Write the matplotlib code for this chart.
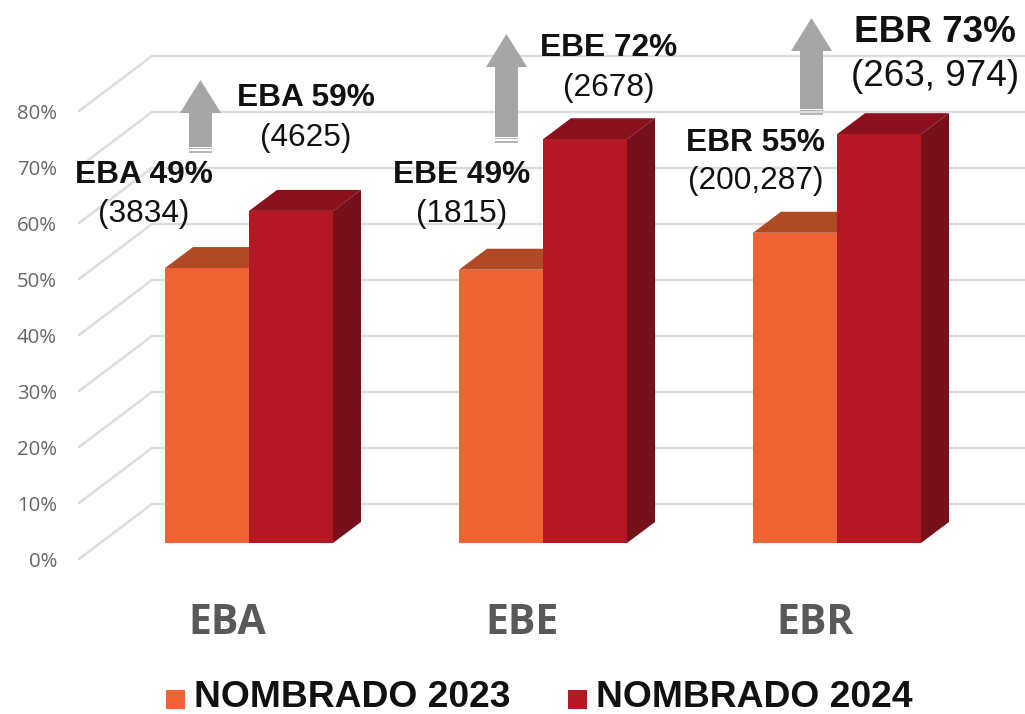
import matplotlib
matplotlib.use("Agg")
import matplotlib.pyplot as plt
from matplotlib.patches import Polygon, Rectangle
from matplotlib.transforms import Affine2D

# chart values
categories = ["EBA", "EBE", "EBR"]
nombrado_2023 = [49.1, 48.8, 55.4]
nombrado_2024 = [59.3, 72.1, 73.0]
y_ticks = [0, 10, 20, 30, 40, 50, 60, 70, 80]
legend_labels = ["NOMBRADO 2023", "NOMBRADO 2024"]
labels_2023 = ["EBA 49%", "EBE 49%", "EBR 55%"]
counts_2023 = ["(3834)", "(1815)", "(200,287)"]
labels_2024 = ["EBA 59%", "EBE 72%", "EBR 73%"]
counts_2024 = ["(4625)", "(2678)", "(263, 974)"]

W, H = 1025, 714
fig = plt.figure(figsize=(W / 100, H / 100), dpi=100, facecolor="white")
ax = fig.add_axes([0, 0, 1, 1])
ax.axis("off")

# scales: one category = 294 px, 10% = 56 px, baseline at pixel row 543
ax.set_xlim(-249 / 294, (W - 249) / 294)
ax.set_ylim(-(H - 543) / 5.6, 543 / 5.6)

# pixel coordinates for the annotations, y pointing down
px = Affine2D().scale(1, -1).translate(0, H)

bar_w = 84 / 294
dx = 28 / 294
dy = 21 / 5.6
back_y = 39 / 5.6
wall_x = (152 - 249) / 294
left_x = (79 - 249) / 294
left_y = -16 / 5.6
grid_col = "#DCDCDC"

# back wall and side wall gridlines
for t in y_ticks:
    ax.plot([left_x, wall_x, ax.get_xlim()[1]], [t + left_y, t + back_y, t + back_y],
            color=grid_col, lw=1.7, zorder=1, solid_joinstyle="miter")
    ax.text(57, 562 - t * 5.6, f"{t}%", transform=px, ha="right", va="center",
            family="Open Sans", fontsize=14.7, color="#666666")


def draw_bar(x0, value, front, top, side, z):
    x1 = x0 + bar_w
    ax.add_patch(Polygon([(x0, value), (x0 + dx, value + dy), (x1 + dx, value + dy), (x1, value)],
                         facecolor=top, edgecolor="none", zorder=z))
    ax.add_patch(Polygon([(x1, 0), (x1 + dx, dy), (x1 + dx, value + dy), (x1, value)],
                         facecolor=side, edgecolor="none", zorder=z))
    ax.bar(x0, value, width=bar_w, align="edge", color=front, zorder=z + 0.5)


for i in range(len(categories)):
    draw_bar(i - bar_w, nombrado_2023[i], "#EE6233", "#B04A25", "#B04A25", 2)
    draw_bar(i, nombrado_2024[i], "#B31824", "#8A111E", "#76101A", 3)
    ax.text(i - 0.073, -81 / 5.6, categories[i], ha="center", va="center",
            family="Open Sans", weight="bold", fontsize=29.5, color="#595959", zorder=5)


def arrow(xc, tip, bottom):
    grey = "#A6A6A6"
    pts = [(xc, tip), (xc + 20.5, tip + 33), (xc + 11.5, tip + 33), (xc + 11.5, bottom - 6),
           (xc - 11.5, bottom - 6), (xc - 11.5, tip + 33), (xc - 20.5, tip + 33)]
    ax.add_patch(Polygon(pts, facecolor=grey, edgecolor="none", transform=px, zorder=6))
    for y in (bottom - 4.6, bottom - 2.2, bottom - 0.6):
        ax.add_patch(Rectangle((xc - 11.5, y), 23, 1.1, facecolor="#B5B5B5", edgecolor="none",
                               transform=px, zorder=6))


arrow(200.5, 80, 153)
arrow(506.5, 34, 143)
arrow(811.5, 18, 115)


def label(x, y1, y2, head, count, size=22.8):
    ax.text(x, y1 + 3, head, transform=px, ha="center", va="center", family="Liberation Sans",
            weight="bold", fontsize=size, color="#111111", zorder=7)
    ax.text(x, y2 + 3, count, transform=px, ha="center", va="center", family="Liberation Sans",
            fontsize=size, color="#111111", zorder=7)


label(144, 172, 211, labels_2023[0], counts_2023[0])
label(306, 95, 135, labels_2024[0], counts_2024[0])
label(461.5, 172, 211, labels_2023[1], counts_2023[1])
label(609, 45, 85, labels_2024[1], counts_2024[1])
label(756, 140, 178, labels_2023[2], counts_2023[2])
label(935, 30, 73, labels_2024[2], counts_2024[2], size=26.6)

# legend
for x, col, txt in [(166, "#EE6233", legend_labels[0]), (568, "#B31824", legend_labels[1])]:
    ax.add_patch(Rectangle((x, 690), 19, 19, facecolor=col, edgecolor="none", transform=px, zorder=7))
    ax.text(x + 28, 697.5, txt, transform=px, ha="left", va="center", family="Liberation Sans",
            weight="bold", fontsize=26.8, color="#111111", zorder=7)

fig.savefig("out.png", dpi=100)
